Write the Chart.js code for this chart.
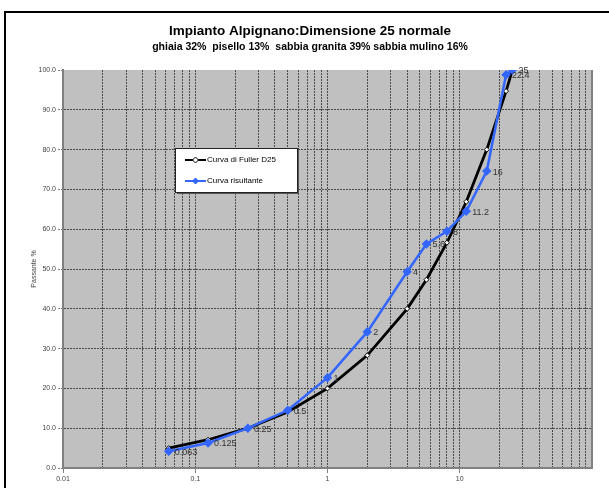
<!DOCTYPE html>
<html>
<head>
<meta charset="utf-8">
<script src="https://cdn.jsdelivr.net/npm/chart.js@4/dist/chart.umd.min.js"></script>
<style>
    body { margin: 0; background: #fff; }
    canvas { display: block; }
</style>
</head>
<body>
<canvas id="curve" width="609" height="488"></canvas>
<script>
const titleText = "Impianto Alpignano:Dimensione 25 normale";
const subtitleText = "ghiaia 32%  pisello 13%  sabbia granita 39% sabbia mulino 16%";

// setacci (mm)
const sieves = [0.063, 0.125, 0.25, 0.5, 1, 2, 4, 5.6, 8, 11.2, 16, 22.4, 25];
const sieveLabels = ["0.063", "0.125", "0.25", "0.5", "1", "2", "4", "5.6", "8", "11.2", "16", "22.4", "25"];
const fuller = [5.0, 7.1, 10.0, 14.1, 20.0, 28.3, 40.0, 47.3, 56.6, 66.9, 80.0, 94.7, 100.0];
const risultante = [4.2, 6.3, 10.0, 14.5, 22.7, 34.2, 49.3, 56.3, 59.5, 64.5, 74.6, 98.8, 100.0];

const xTickLabels = ["0.01", "0.1", "1", "10"];
const yTicks = [0, 10, 20, 30, 40, 50, 60, 70, 80, 90, 100];

const FONT = "'Liberation Sans', Arial, sans-serif";

function points(values) {
    return sieves.map((s, i) => ({ x: s, y: values[i] }));
}

function isDecade(v) {
    let l = Math.log10(v);
    return Math.abs(l - Math.round(l)) < 1e-9;
}

const framePlugin = {
    id: "frame",
    beforeDraw(chart) {
        const ctx = chart.ctx;
        const a = chart.chartArea;
        ctx.save();
        ctx.fillStyle = "#c0c0c0";
        ctx.fillRect(a.left, a.top, a.right - a.left, a.bottom - a.top);

        ctx.strokeStyle = "#000";
        ctx.lineWidth = 2;
        ctx.beginPath();
        ctx.moveTo(5, 488);
        ctx.lineTo(5, 12);
        ctx.lineTo(609, 12);
        ctx.stroke();

        ctx.fillStyle = "#000";
        ctx.textAlign = "center";
        ctx.textBaseline = "middle";
        ctx.font = "bold 13.5px " + FONT;
        ctx.fillText(titleText, 310, 31);
        ctx.font = "bold 10.5px " + FONT;
        ctx.fillText(subtitleText, 310, 47);
        ctx.restore();
    },
    afterDraw(chart) {
        const ctx = chart.ctx;
        const a = chart.chartArea;
        ctx.save();
        ctx.strokeStyle = "#808080";
        ctx.lineWidth = 2;
        ctx.beginPath();
        ctx.moveTo(a.right, a.top);
        ctx.lineTo(a.right, a.bottom);
        ctx.stroke();

        // etichette dei setacci sulla curva risultante
        const meta = chart.getDatasetMeta(1);
        ctx.fillStyle = "#333";
        ctx.font = "9px " + FONT;
        ctx.textAlign = "left";
        ctx.textBaseline = "middle";
        meta.data.forEach((pt, i) => {
            ctx.fillText(sieveLabels[i], pt.x + 6, pt.y + 1);
        });

        // legenda
        const lx = 175, ly = 148, lw = 122, lh = 44;
        ctx.fillStyle = "#555";
        ctx.fillRect(lx + 2, ly + 2, lw, lh);
        ctx.fillStyle = "#fff";
        ctx.fillRect(lx, ly, lw, lh);
        ctx.strokeStyle = "#222";
        ctx.lineWidth = 1;
        ctx.strokeRect(lx + 0.5, ly + 0.5, lw, lh);

        chart.data.datasets.forEach((ds, i) => {
            let y = ly + 12 + i * 21;
            ctx.strokeStyle = ds.borderColor;
            ctx.lineWidth = 2;
            ctx.beginPath();
            ctx.moveTo(lx + 10, y);
            ctx.lineTo(lx + 31, y);
            ctx.stroke();
            ctx.beginPath();
            ctx.moveTo(lx + 20.5, y - 3);
            ctx.lineTo(lx + 23.5, y);
            ctx.lineTo(lx + 20.5, y + 3);
            ctx.lineTo(lx + 17.5, y);
            ctx.closePath();
            ctx.fillStyle = ds.pointBackgroundColor;
            ctx.fill();
            ctx.lineWidth = 1;
            ctx.stroke();
            ctx.fillStyle = "#000";
            ctx.font = "8px " + FONT;
            ctx.textAlign = "left";
            ctx.fillText(ds.label, lx + 32, y);
        });
        ctx.restore();
    }
};

new Chart(document.getElementById("curve"), {
    type: "line",
    data: {
        datasets: [{
            label: "Curva di Fuller D25",
            data: points(fuller),
            borderColor: "#000",
            borderWidth: 2.8,
            pointStyle: "rectRot",
            pointRadius: 2.5,
            pointBackgroundColor: "#fff",
            pointBorderColor: "#000",
            pointBorderWidth: 1,
            tension: 0
        }, {
            label: "Curva risultante",
            data: points(risultante),
            borderColor: "#3366ff",
            borderWidth: 2.5,
            pointStyle: "rectRot",
            pointRadius: 3,
            pointBackgroundColor: "#3366ff",
            pointBorderColor: "#3366ff",
            tension: 0,
            order: -1
        }]
    },
    options: {
        responsive: false,
        animation: false,
        layout: { padding: { top: 70, right: 17, left: 0, bottom: 0 } },
        plugins: {
            legend: { display: false },
            tooltip: { enabled: false }
        },
        scales: {
            x: {
                type: "logarithmic",
                min: 0.01,
                max: 100,
                afterFit(scale) { scale.height = 20; },
                afterBuildTicks(scale) {
                    let ticks = [];
                    for (let d = 0.01; d < 50; d *= 10)
                        for (let m = 1; m <= 9; m++)
                            ticks.push({ value: parseFloat((m * d).toPrecision(3)) });
                    ticks.push({ value: 100 });
                    scale.ticks = ticks;
                },
                ticks: {
                    autoSkip: false,
                    maxRotation: 0,
                    padding: 2,
                    color: "#444",
                    font: { size: 7, family: FONT },
                    callback(value) {
                        if (!isDecade(value)) return "";
                        let idx = Math.round(Math.log10(value)) + 2;
                        return xTickLabels[idx] || "";
                    }
                },
                grid: {
                    color: "#4a4a4a",
                    lineWidth: 1,
                    tickLength: 5,
                    tickColor(ctx) {
                        let v = ctx.tick && ctx.tick.value;
                        return v && isDecade(v) && v < 100 ? "#808080" : "rgba(0,0,0,0)";
                    },
                    tickBorderDash: []
                },
                border: { color: "#808080", width: 2, dash: [2, 1] }
            },
            y: {
                min: 0,
                max: 100,
                afterFit(scale) { scale.width = 63; },
                afterBuildTicks(scale) {
                    scale.ticks = yTicks.map((v) => ({ value: v }));
                },
                ticks: {
                    padding: 2,
                    color: "#444",
                    font: { size: 7, family: FONT },
                    callback(value) { return value.toFixed(1); }
                },
                title: {
                    display: true,
                    text: "Passante %",
                    color: "#444",
                    font: { size: 7, family: FONT },
                    padding: { top: 30, bottom: 0 }
                },
                grid: {
                    color(ctx) {
                        let v = ctx.tick && ctx.tick.value;
                        return v === 0 || v === 100 ? "rgba(0,0,0,0)" : "#4a4a4a";
                    },
                    lineWidth: 1,
                    tickLength: 5,
                    tickColor: "#808080",
                    tickBorderDash: [2, 1]
                },
                border: { color: "#808080", width: 2, dash: [2, 1] }
            }
        }
    },
    plugins: [framePlugin]
});
</script>
</body>
</html>
